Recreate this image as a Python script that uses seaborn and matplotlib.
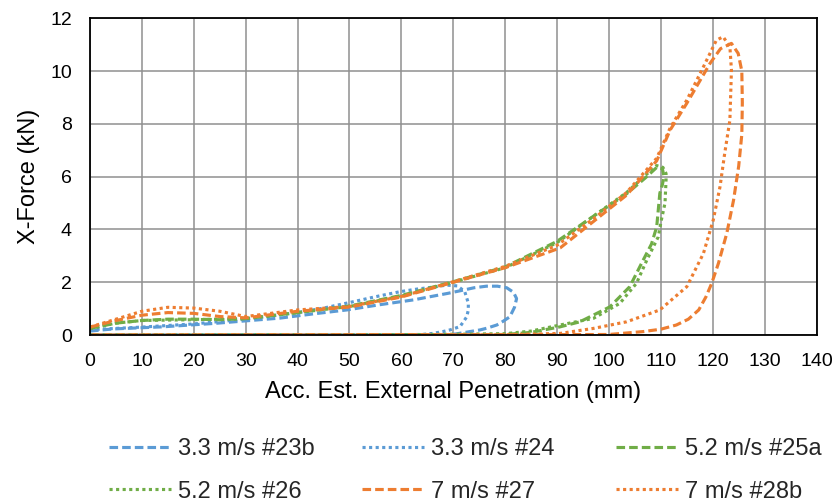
import matplotlib
matplotlib.use("Agg")
import matplotlib.pyplot as plt
import seaborn as sns
import pandas as pd

x_23b = [0, 4.5, 14, 24, 33.4, 36.6, 43, 49.5, 55.9, 62.3, 65.5, 69, 71.9, 74, 76.4, 78.5, 80.3, 81.6, 82.2, 81.8, 80.9, 79.6, 78.4, 76.5, 75.1, 73.2, 70.5, 68.7, 60, 45, 30, 15, 0]
y_23b = [0.15, 0.23, 0.31, 0.44, 0.59, 0.64, 0.8, 0.95, 1.15, 1.33, 1.45, 1.58, 1.7, 1.79, 1.85, 1.85, 1.79, 1.62, 1.38, 1.05, 0.69, 0.52, 0.38, 0.26, 0.19, 0.13, 0.04, 0.01, 0.0, 0.0, 0.0, 0.0, 0.0]

x_24 = [0, 5, 10, 20, 30, 40, 45, 50.7, 55, 59.7, 63, 65.5, 68.7, 70.8, 72.2, 72.9, 72.9, 72.6, 71.3, 69.5, 68, 66, 64, 50, 30, 10, 0]
y_24 = [0.2, 0.25, 0.3, 0.42, 0.6, 0.85, 1.02, 1.26, 1.45, 1.64, 1.74, 1.8, 1.89, 1.86, 1.65, 1.21, 0.95, 0.69, 0.32, 0.2, 0.13, 0.06, 0.02, 0.0, 0.0, 0.0, 0.0]

x_25a = [0, 5, 10, 15, 20, 25, 30, 40, 50, 60, 70, 80, 90, 97, 103.4, 107, 109.2, 110.3, 110.6, 110.3, 109.8, 109.2, 108.2, 106.6, 104, 100.2, 94.4, 90.6, 85, 80, 60, 30, 0]
y_25a = [0.25, 0.45, 0.55, 0.6, 0.6, 0.58, 0.62, 0.85, 1.1, 1.5, 2.02, 2.58, 3.55, 4.5, 5.35, 5.95, 6.35, 6.3, 6.0, 5.7, 5.37, 4.1, 3.45, 2.84, 1.83, 1.07, 0.5, 0.31, 0.1, 0.02, 0.01, 0.0, 0.0]

x_26 = [0, 5, 10, 20, 30, 40, 50, 60, 70, 80, 90, 97, 103.4, 107, 109.2, 110.4, 111, 111, 110.8, 110.1, 109.5, 107.3, 105.3, 102.1, 97, 90.6, 85, 80, 60, 30, 0]
y_26 = [0.25, 0.45, 0.55, 0.58, 0.62, 0.85, 1.08, 1.48, 2.0, 2.55, 3.5, 4.5, 5.4, 6.05, 6.42, 6.35, 6.12, 5.87, 5.0, 4.36, 3.72, 2.84, 1.96, 1.2, 0.63, 0.38, 0.15, 0.05, 0.01, 0.0, 0.0]

x_27 = [0, 5, 10, 15, 20, 25, 30, 40, 50, 60, 70, 80, 90.6, 97, 103.4, 109.2, 111.8, 115, 119.5, 121.5, 123.6, 124.9, 125.6, 125.7, 125.6, 125, 124, 122.7, 121.1, 119.8, 118.7, 117.3, 115.3, 113, 110, 106.6, 100, 80, 50, 20, 0]
y_27 = [0.3, 0.55, 0.75, 0.85, 0.82, 0.7, 0.65, 0.9, 1.06, 1.44, 2.0, 2.55, 3.3, 4.3, 5.3, 6.6, 7.77, 8.78, 10.3, 10.85, 11.05, 10.67, 10.0, 8.8, 7.6, 6.4, 5.1, 3.85, 2.72, 1.96, 1.45, 0.95, 0.6, 0.38, 0.22, 0.13, 0.02, 0.01, 0.01, 0.0, 0.0]

x_28b = [0, 5, 10, 15, 20, 25, 30, 40, 50, 60, 70, 80, 90, 97, 103.4, 109.2, 111.8, 115, 118.2, 120.7, 122, 123.3, 123.6, 123.3, 122.3, 121.4, 120.1, 118.2, 115, 109.8, 103.4, 97, 90.6, 80, 50, 20, 0]
y_28b = [0.3, 0.6, 0.9, 1.05, 1.02, 0.9, 0.7, 0.95, 1.08, 1.46, 2.02, 2.6, 3.4, 4.4, 5.4, 6.7, 7.85, 8.9, 10.16, 11.17, 11.3, 10.92, 10.04, 8.14, 6.88, 5.62, 4.36, 3.09, 1.83, 0.95, 0.5, 0.25, 0.06, 0.01, 0.0, 0.0, 0.0]

labels = ["3.3 m/s #23b", "3.3 m/s #24", "5.2 m/s #25a", "5.2 m/s #26", "7 m/s #27", "7 m/s #28b"]
x_ticks = list(range(0, 141, 10))
y_ticks = list(range(0, 13, 2))

series = [(x_23b, y_23b), (x_24, y_24), (x_25a, y_25a), (x_26, y_26), (x_27, y_27), (x_28b, y_28b)]
colors = ["#5B9BD5", "#5B9BD5", "#70AD47", "#70AD47", "#ED7D31", "#ED7D31"]
dashed = (0, (2.75, 1.3))
dotted = (0, (1.0, 1.1))
styles = [dashed, dotted, dashed, dotted, dashed, dotted]

sns.set_theme(style="white")
plt.rcParams['font.family'] = ['Liberation Sans', 'DejaVu Sans']

fig = plt.figure(figsize=(8.38, 5.04), dpi=100)
ax = fig.add_axes([0.1074, 0.3353, 0.8670, 0.6284])

for (xs, ys), lab, c, ls in zip(series, labels, colors, styles):
    df = pd.DataFrame({"x": xs, "y": ys})
    sns.lineplot(data=df, x="x", y="y", sort=False, estimator=None, ax=ax,
                 color=c, linestyle=ls, linewidth=2.25, label=lab)

handles, labs = ax.get_legend_handles_labels()
if ax.get_legend() is not None:
    ax.get_legend().remove()

ax.set_xlim(0, 140)
ax.set_ylim(0, 12)
ax.set_xticks(x_ticks)
ax.set_yticks(y_ticks)
ax.grid(True, color="#8f8f8f", linewidth=1.1)
ax.set_axisbelow(True)
for s in ax.spines.values():
    s.set_color("black")
    s.set_linewidth(1.3)
ax.tick_params(axis="both", labelsize=14, colors="black", length=0, pad=13)
ax.set_xlabel("Acc. Est. External Penetration (mm)", fontsize=17, color="black", labelpad=8)
ax.set_ylabel("X-Force (kN)", fontsize=17, color="black", labelpad=7)

# legend: three columns placed like the reference (row-wise order)
W, H = 838.0, 504.0
col_x = [109, 362, 616]
cols = [(0, 3), (1, 4), (2, 5)]
for cx, (i, j) in zip(col_x, cols):
    leg = fig.legend([handles[i], handles[j]], [labs[i], labs[j]],
                     loc="center left", bbox_to_anchor=(cx / W, 1 - 470.5 / H),
                     frameon=False, fontsize=17, handlelength=2.63,
                     handletextpad=0.3, labelspacing=0.85, borderpad=0,
                     borderaxespad=0)

fig.savefig("out.png", dpi=100)
